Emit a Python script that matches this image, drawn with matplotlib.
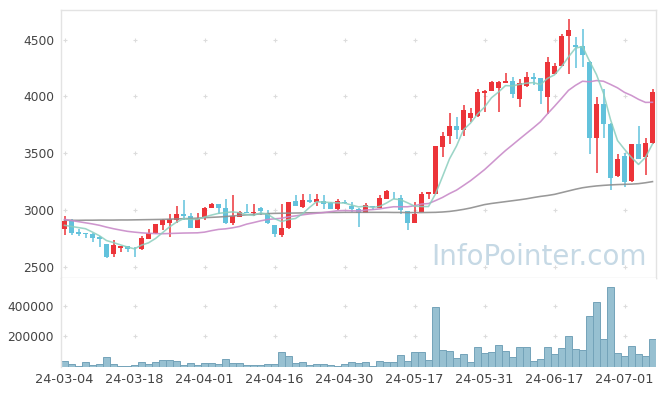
import numpy as np
import pandas as pd
import matplotlib
matplotlib.use('Agg')
import matplotlib.pyplot as plt

# trading days (KRX holidays removed)
holidays = ['2024-04-10', '2024-05-01', '2024-05-06', '2024-05-15', '2024-06-06']
days = pd.bdate_range('2024-03-04', '2024-07-05')
days = days[~days.isin(pd.to_datetime(holidays))]
day_labels = list(days.strftime('%y-%m-%d'))

opens = [2833, 2912, 2807, 2798, 2789, 2769, 2702, 2614, 2671, 2684,
         2673, 2658, 2750, 2801, 2875, 2890, 2918, 2965, 2947, 2847,
         2939, 3023, 3053, 3023, 2885, 2942, 2985, 2980, 3023, 2980,
         2868, 2781, 2840, 3079, 3029, 3094, 3073, 3079, 3064, 3015,
         3073, 3035, 3015, 2977, 3038, 3020, 3099, 3162, 3108, 2991,
         2890, 2985, 3140, 3146, 3555, 3649, 3745, 3708, 3811, 3825,
         4029, 4048, 4078, 4118, 4140, 3982, 4088, 4175, 4160, 3995,
         4200, 4267, 4530, 4456, 4440, 4307, 3636, 3936, 3762, 3303,
         3474, 3257, 3585, 3464, 3592]
highs = [2947, 2921, 2833, 2800, 2800, 2775, 2705, 2743, 2690, 2690,
         2675, 2775, 2833, 2880, 2925, 2971, 3035, 3094, 2980, 2980,
         3030, 3060, 3055, 3102, 3132, 2990, 3053, 3053, 3030, 3000,
         2870, 3058, 3075, 3132, 3146, 3140, 3146, 3137, 3070, 3102,
         3090, 3073, 3020, 3064, 3040, 3130, 3175, 3165, 3132, 2995,
         3073, 3160, 3163, 3565, 3687, 3853, 3818, 3921, 3903, 4070,
         4055, 4140, 4135, 4205, 4175, 4157, 4215, 4205, 4162, 4345,
         4292, 4550, 4680, 4520, 4595, 4310, 3995, 4070, 3765, 3491,
         3500, 3585, 3737, 3634, 4070]
lows = [2781, 2781, 2772, 2754, 2720, 2676, 2585, 2590, 2634, 2634,
        2586, 2650, 2745, 2795, 2830, 2763, 2890, 2912, 2845, 2840,
        2918, 3018, 2971, 2880, 2868, 2940, 2975, 2950, 2960, 2880,
        2766, 2763, 2835, 3035, 3016, 3060, 3035, 3015, 3010, 3006,
        3058, 2985, 2855, 2975, 3000, 3018, 3095, 3100, 2971, 2831,
        2885, 2983, 3102, 3140, 3468, 3585, 3629, 3650, 3776, 3820,
        3862, 4045, 3862, 4115, 3988, 3908, 4083, 4097, 3930, 3850,
        4195, 4265, 4200, 4250, 4257, 3497, 3329, 3631, 3175, 3295,
        3205, 3250, 3450, 3313, 3585]
closes = [2904, 2798, 2790, 2790, 2757, 2745, 2590, 2699, 2688, 2662,
          2665, 2757, 2798, 2877, 2918, 2921, 2965, 2947, 2848, 2921,
          3023, 3053, 3020, 2885, 2947, 2985, 2977, 2983, 2995, 2890,
          2790, 2848, 3073, 3038, 3094, 3070, 3102, 3058, 3015, 3079,
          3065, 3015, 2977, 3044, 3025, 3108, 3167, 3158, 3006, 2890,
          2965, 3146, 3160, 3561, 3649, 3745, 3708, 3877, 3853, 4040,
          4052, 4125, 4125, 4140, 4024, 4120, 4175, 4150, 4052, 4300,
          4272, 4535, 4580, 4439, 4367, 3636, 3936, 3762, 3285, 3447,
          3249, 3579, 3455, 3594, 4040]
volume = [38700, 19400, 6500, 32300, 12900, 19400, 64500, 19400, 6500, 6500,
          12900, 32300, 19400, 32300, 45200, 45200, 38700, 12900, 25800, 12900,
          25800, 25800, 19400, 51600, 25800, 25800, 12900, 12900, 12900, 19400,
          19400, 96800, 71000, 25800, 32300, 12900, 19400, 19400, 12900, 4300,
          17200, 30100, 23700, 30100, 4300, 36600, 30100, 30100, 75300, 36600,
          101000, 101000, 43000, 391500, 114000, 107500, 56000, 81700, 30100, 133400,
          88200, 101000, 146300, 107500, 62400, 133400, 133400, 36600, 49500, 133400,
          81700, 127000, 204300, 120500, 114000, 333400, 423700, 185000, 520500, 88200,
          68800, 139800, 81700, 68800, 185000]
ma5 = [2868, 2858, 2848, 2838, 2808, 2776, 2734, 2716, 2696, 2677,
       2661, 2694, 2714, 2752, 2803, 2854, 2896, 2926, 2920, 2920,
       2941, 2958, 2973, 2980, 2986, 2978, 2963, 2955, 2977, 2966,
       2927, 2901, 2919, 2928, 2969, 3025, 3075, 3072, 3068, 3065,
       3064, 3046, 3030, 3036, 3025, 3034, 3064, 3100, 3093, 3066,
       3037, 3033, 3033, 3144, 3296, 3452, 3565, 3708, 3766, 3845,
       3906, 3989, 4039, 4096, 4093, 4107, 4117, 4122, 4104, 4159,
       4190, 4262, 4348, 4425, 4439, 4311, 4192, 4028, 3797, 3613,
       3536, 3464, 3403, 3465, 3583]
ma20 = [2920, 2910, 2900, 2890, 2880, 2868, 2852, 2838, 2826, 2815,
        2808, 2802, 2798, 2795, 2794, 2796, 2798, 2800, 2801, 2802,
        2808, 2821, 2832, 2837, 2846, 2858, 2878, 2892, 2907, 2919,
        2925, 2930, 2943, 2951, 2960, 2968, 2974, 2980, 2988, 2996,
        2998, 2996, 2994, 3002, 3006, 3012, 3022, 3031, 3031, 3031,
        3040, 3055, 3059, 3085, 3113, 3147, 3177, 3218, 3260, 3308,
        3357, 3413, 3470, 3525, 3575, 3626, 3676, 3726, 3778, 3848,
        3914, 3983, 4054, 4098, 4134, 4129, 4140, 4134, 4106, 4076,
        4036, 4009, 3975, 3948, 3949]
ma120 = [2912, 2912, 2912, 2913, 2913, 2914, 2914, 2914, 2915, 2915,
         2916, 2917, 2918, 2919, 2920, 2922, 2924, 2926, 2928, 2931,
         2935, 2938, 2941, 2945, 2950, 2955, 2960, 2965, 2968, 2971,
         2973, 2974, 2975, 2976, 2977, 2978, 2979, 2980, 2981, 2981,
         2982, 2982, 2982, 2982, 2982, 2982, 2982, 2981, 2981, 2980,
         2980, 2980, 2981, 2982, 2985, 2990, 2998, 3008, 3020, 3035,
         3050, 3060, 3068, 3076, 3084, 3092, 3101, 3112, 3122, 3130,
         3140, 3155, 3170, 3185, 3198, 3207, 3214, 3219, 3223, 3226,
         3228, 3230, 3234, 3242, 3252]

price_ticks = [2500, 3000, 3500, 4000, 4500]
volume_ticks = [200000, 400000]

up_color = '#ec3439'
down_color = '#62c2dc'
frame_color = '#e3e3e3'
text_color = '#444444'

o = np.array(opens)
c = np.array(closes)
x = np.arange(len(c))
colors = np.where(c >= o, up_color, down_color)

fig = plt.figure(figsize=(6.65, 3.96), dpi=100)
ax = fig.add_axes([61 / 665, 1 - 278 / 396, 595 / 665, 268 / 396])
axv = fig.add_axes([61 / 665, 1 - 367 / 396, 595 / 665, 89 / 396], sharex=ax)

# candles
ax.vlines(x, lows, highs, color=colors, linewidth=1.1, zorder=2)
ax.bar(x, np.maximum(np.abs(c - o), 7), bottom=np.minimum(o, c), width=0.72,
       color=colors, linewidth=0, zorder=3)

# moving averages
ax.plot(x, ma120, color='#8e8e8e', linewidth=1.15, alpha=0.9, zorder=4)
ax.plot(x, ma20, color='#c98bc9', linewidth=1.15, alpha=0.9, zorder=4)
ax.plot(x, ma5, color='#8bcebe', linewidth=1.15, alpha=0.85, zorder=4)

# volume
axv.bar(x, volume, width=1.0, color='#97c0d1', edgecolor='#74a3b9', linewidth=0.7)

ax.set_xlim(-0.5, len(c) - 0.5)
ax.set_ylim(2405, 4760)
axv.set_ylim(0, 580000)

tick_pos = x[::10]
axv.set_xticks(tick_pos)
axv.set_xticklabels([day_labels[i] for i in tick_pos], fontsize=9.3, color=text_color)
ax.tick_params(axis='x', labelbottom=False, length=0)
axv.tick_params(axis='x', length=0, pad=4)

ax.set_yticks(price_ticks)
ax.set_yticklabels([str(v) for v in price_ticks], fontsize=8.8, color=text_color)
axv.set_yticks(volume_ticks)
axv.set_yticklabels([str(v) for v in volume_ticks], fontsize=8.8, color=text_color)
ax.tick_params(axis='y', length=0, pad=5)
axv.tick_params(axis='y', length=0, pad=5)

# "+" grid marks at tick crossings
gx, gy = np.meshgrid(tick_pos, price_ticks)
ax.scatter(gx.ravel(), gy.ravel(), marker='+', s=12, color='#dcdcdc', linewidth=0.8, zorder=1)
gx, gy = np.meshgrid(tick_pos, volume_ticks)
axv.scatter(gx.ravel(), gy.ravel(), marker='+', s=12, color='#dcdcdc', linewidth=0.8, zorder=1)

for a in (ax, axv):
    for s in a.spines.values():
        s.set_color(frame_color)
        s.set_linewidth(1)
axv.spines['top'].set_visible(False)
axv.spines['right'].set_visible(False)
axv.spines['bottom'].set_visible(False)

ax.text(0.803, 0.08, 'InfoPointer.com', transform=ax.transAxes, fontsize=20,
        color='#c6d9e5', ha='center', va='center', zorder=0)

fig.savefig('out.png', dpi=100)
